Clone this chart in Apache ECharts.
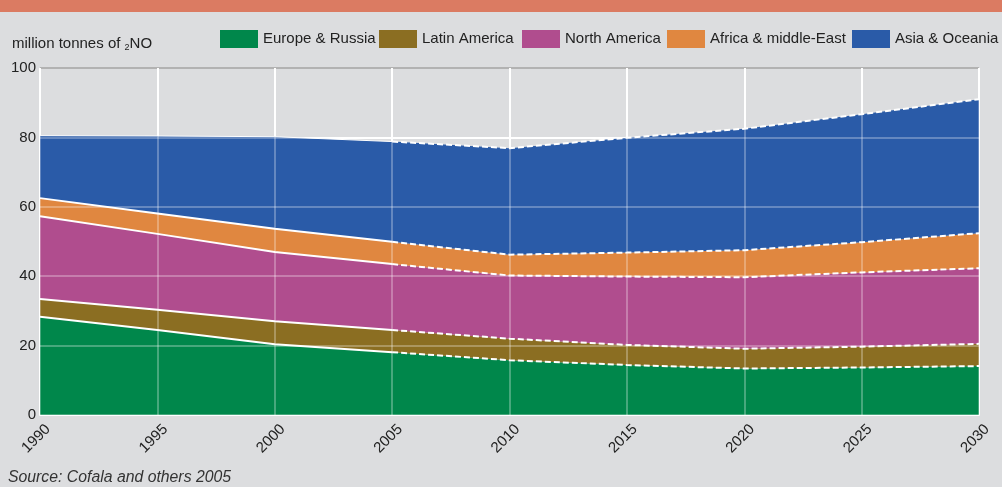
<!DOCTYPE html>
<html>
<head>
<meta charset="utf-8">
<script src="https://cdn.jsdelivr.net/npm/echarts@6/dist/echarts.min.js"></script>
<style>
html,body{margin:0;padding:0;background:#dcdddf;}
#c{width:1002px;height:487px;}
</style>
</head>
<body>
<div id="c"></div>
<script>
const years = ['1990','1995','2000','2005','2010','2015','2020','2025','2030'];
const seriesNames = ['Europe & Russia','Latin America','North America','Africa & middle-East','Asia & Oceania'];
const europe = [28.3, 24.5, 20.4, 18.1, 15.8, 14.4, 13.4, 13.7, 14.1];
const latin  = [5.1, 5.8, 6.6, 6.4, 6.2, 5.8, 5.7, 6.0, 6.4];
const northAm = [23.9, 21.9, 20.0, 19.0, 18.2, 19.7, 20.6, 21.4, 21.8];
const africa = [5.2, 5.9, 6.7, 6.4, 6.0, 6.9, 7.8, 8.7, 10.1];
const asia   = [18.0, 22.3, 26.5, 28.9, 30.7, 33.1, 35.0, 36.9, 38.6];
const yTicks = [0, 20, 40, 60, 80, 100];

const values = [europe, latin, northAm, africa, asia];
const colors = ['#00874b', '#8b6e22', '#b04d8e', '#e08740', '#2a5ba8'];
const projStart = 3; // 2005: solid before, dashed after

const font = "'Liberation Sans', Arial, Helvetica, sans-serif";
const series = [];
values.forEach((arr, k) => {
  series.push({
    name: seriesNames[k], type: 'line', stack: 'area', data: arr,
    symbol: 'none', z: 2, silent: true,
    itemStyle: { color: colors[k] },
    lineStyle: { width: 0 },
    areaStyle: { color: colors[k], opacity: 1 }
  });
});
values.forEach((arr, k) => {
  series.push({
    name: seriesNames[k] + ' (hist)', type: 'line', stack: 'solid',
    data: arr.map((v, i) => i <= projStart ? v : '-'),
    symbol: 'none', z: 5, silent: true,
    lineStyle: { color: '#ffffff', width: k === 4 ? 1 : 2 }
  });
});
values.forEach((arr, k) => {
  series.push({
    name: seriesNames[k] + ' (proj)', type: 'line', stack: 'dashed',
    data: arr.map((v, i) => i >= projStart ? v : '-'),
    symbol: 'none', z: 5, silent: true,
    lineStyle: { color: '#ffffff', width: 2, type: [6, 3] }
  });
});

const legendLefts = [220, 379, 522, 667, 852];
const legends = seriesNames.map((n, k) => ({
  left: legendLefts[k], top: 30, data: [n], icon: 'rect',
  itemWidth: 38, itemHeight: 18, itemGap: 0, padding: 0,
  selectedMode: false,
  textStyle: { fontFamily: font, fontSize: 15, color: '#222' }
}));

const chart = echarts.init(document.getElementById('c'), null, { renderer: 'canvas' });
chart.setOption({
  backgroundColor: '#dcdddf',
  animation: false,
  legend: legends,
  grid: [
    { left: 40, right: 23, top: 68, bottom: 72 },
    { left: 48, right: 15, top: 68, bottom: 72 }
  ],
  xAxis: [
    { type: 'category', gridIndex: 0, data: years, boundaryGap: false,
      axisLine: { show: true, lineStyle: { color: '#ffffff', width: 2 } },
      axisTick: { show: false }, axisLabel: { show: false },
      splitLine: { show: true, lineStyle: { color: '#ffffff', width: 2 } } },
    { type: 'category', gridIndex: 0, data: years, boundaryGap: false, z: 3,
      axisLine: { show: false }, axisTick: { show: false }, axisLabel: { show: false },
      splitLine: { show: true, lineStyle: { color: 'rgba(255,255,255,0.28)', width: 2 } } },
    { type: 'category', gridIndex: 1, data: years, boundaryGap: false,
      axisLine: { show: false }, axisTick: { show: false }, splitLine: { show: false },
      axisLabel: { rotate: 45, margin: 12, fontFamily: font, fontSize: 15, color: '#222' } }
  ],
  yAxis: [
    { type: 'value', gridIndex: 0, min: yTicks[0], max: yTicks[yTicks.length - 1], interval: 20,
      axisLine: { show: false }, axisTick: { show: false },
      axisLabel: { margin: 4, fontFamily: font, fontSize: 15, color: '#222' },
      splitLine: { show: true, lineStyle: { color: ['#ffffff', '#ffffff', '#ffffff', '#ffffff', '#ffffff', '#b2b2b2'], width: 2 } } },
    { type: 'value', gridIndex: 0, min: 0, max: 100, interval: 20, z: 3,
      axisLine: { show: false }, axisTick: { show: false }, axisLabel: { show: false },
      splitLine: { show: true, lineStyle: { color: ['rgba(255,255,255,0.28)', 'rgba(255,255,255,0.28)', 'rgba(255,255,255,0.28)', 'rgba(255,255,255,0.28)', 'rgba(255,255,255,0.28)', 'rgba(0,0,0,0)'], width: 2 } } },
    { type: 'value', gridIndex: 1, min: 0, max: 100, show: false }
  ],
  series: series,
  graphic: [
    { type: 'rect', left: 0, top: 0, shape: { width: 1002, height: 12 }, style: { fill: '#db7b62' }, silent: true },
    { type: 'text', left: 12, top: 36,
      style: { text: '{a|million tonnes of }{s|2}{b|NO}', rich: {
        a: { fontFamily: font, fontSize: 15, fill: '#222' },
        s: { fontFamily: font, fontSize: 9, fill: '#222', padding: [8, 0, 0, 0] },
        b: { fontFamily: font, fontSize: 15, fill: '#222' } } } },
    { type: 'text', left: 8, top: 470,
      style: { text: 'Source: Cofala and others 2005', fontFamily: font, fontSize: 15.8, fontStyle: 'italic', fill: '#333' } }
  ]
});
</script>
</body>
</html>
